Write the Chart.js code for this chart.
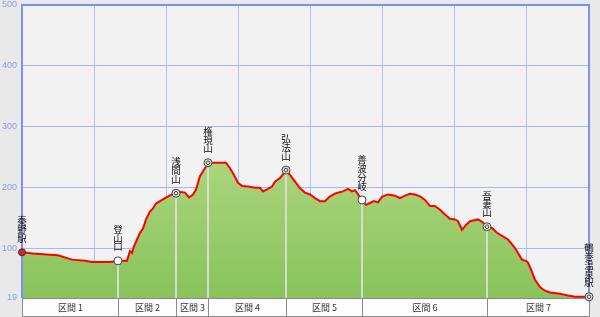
<!DOCTYPE html>
<html><head><meta charset="utf-8">
<script src="https://cdn.jsdelivr.net/npm/chart.js@4/dist/chart.umd.min.js"></script>
<style>html,body{margin:0;padding:0;background:#e9e9e9;}canvas{display:block;}</style>
</head><body>
<canvas id="c" width="600" height="317"></canvas>
<script>
// distance along route (km) and elevation (m)
const distKm = [0,0.153,0.389,0.5,0.694,0.875,0.972,1.222,1.333,1.458,1.5,1.528,1.556,1.597,1.639,1.681,1.722,1.778,1.819,1.861,1.917,1.958,2.028,2.083,2.139,2.208,2.264,2.319,2.375,2.417,2.444,2.472,2.514,2.556,2.583,2.653,2.833,2.889,2.944,3.0,3.056,3.139,3.236,3.306,3.347,3.417,3.472,3.514,3.583,3.639,3.667,3.722,3.792,3.861,3.931,4.0,4.069,4.139,4.208,4.278,4.361,4.458,4.528,4.583,4.625,4.667,4.722,4.778,4.833,4.889,4.944,5.0,5.083,5.181,5.25,5.319,5.389,5.458,5.528,5.597,5.667,5.736,5.806,5.875,5.944,6.014,6.056,6.111,6.167,6.222,6.333,6.403,6.458,6.528,6.597,6.667,6.75,6.806,6.847,6.889,6.944,7.0,7.028,7.069,7.125,7.194,7.264,7.333,7.472,7.583,7.681,7.875];
const elevation = [94,92,90,89,82,80,78,78,80,80,96,93,104,115,126,133,148,161,166,174,178,181,186,189,191,193,192,184,189,197,208,219,227,235,241,241,241,232,221,208,203,202,200,200,194,198,202,210,216,224,229,221,210,199,192,189,183,178,178,186,191,194,198,194,196,189,180,172,175,178,176,185,189,187,183,187,190,189,186,180,170,170,164,156,149,148,145,131,139,145,148,143,136,134,126,121,115,107,101,93,82,80,77,66,49,37,31,28,26,23,21,21];

const stationNames = ["秦野駅","登山口","浅間山","権現山","弘法山","善波分岐","吾妻山","鶴巻温泉駅"];
const stationKm = [0,1.333,2.139,2.583,3.667,4.722,6.458,7.875];
const stationElev = [94,80,191,241,229,180,136,21];
const stationType = ["station","point","summit","summit","summit","point","summit","summit"];

const sectionLabels = ["区間 1","区間 2","区間 3","区間 4","区間 5","区間 6","区間 7"];
const yTicks = [19,100,200,300,400,500];
const xGridKm = [0,1,2,3,4,5,6,7];
const xMaxKm = 7.875;

const points = distKm.map((d,i)=>({x:d,y:elevation[i]}));

const deco = {
  id:'deco',
  beforeDraw(chart){
    const {ctx, chartArea:a} = chart;
    ctx.save();
    ctx.fillStyle = '#e9e9e9';
    ctx.fillRect(0,0,chart.width,chart.height);
    ctx.fillStyle = '#f2f2f2';
    ctx.fillRect(a.left,a.top,a.right-a.left,a.bottom-a.top);
    ctx.restore();
  },
  afterDatasetsDraw(chart){
    const {ctx, chartArea:a, scales:{x,y}} = chart;
    ctx.save();
    // frame
    ctx.strokeStyle = '#7d8ff0';
    ctx.lineWidth = 2;
    ctx.beginPath();
    ctx.moveTo(a.left, a.bottom); ctx.lineTo(a.left, a.top); ctx.lineTo(a.right, a.top); ctx.lineTo(a.right, a.bottom);
    ctx.stroke();
    // station vertical lines
    stationKm.forEach((k,i)=>{
      const px = Math.round(x.getPixelForValue(k));
      const py = y.getPixelForValue(stationElev[i]);
      if (i===0 || i===stationKm.length-1) return;
      ctx.strokeStyle = 'rgba(225,225,225,0.85)';
      ctx.lineWidth = 2;
      ctx.beginPath(); ctx.moveTo(px, py+4); ctx.lineTo(px, a.bottom); ctx.stroke();
    });
    // section band
    const bandTop = a.bottom, bandBot = chart.height - 1;
    for (let i=0;i<sectionLabels.length;i++){
      const x0 = Math.round(x.getPixelForValue(stationKm[i])) + 0.5;
      const x1 = Math.round(x.getPixelForValue(stationKm[i+1])) + 0.5;
      ctx.fillStyle = '#fdfdfd';
      ctx.fillRect(x0, bandTop, x1-x0, bandBot-bandTop);
      ctx.strokeStyle = '#8a8a8a';
      ctx.lineWidth = 1;
      ctx.strokeRect(x0, bandTop+0.5, x1-x0, bandBot-bandTop);
      ctx.fillStyle = '#333';
      ctx.font = '9px "Noto Sans CJK JP", sans-serif';
      ctx.textAlign = 'center';
      ctx.textBaseline = 'middle';
      ctx.fillText(sectionLabels[i], (x0+x1)/2, (bandTop+bandBot)/2+1);
    }
    // markers and labels
    stationKm.forEach((k,i)=>{
      const px = x.getPixelForValue(k);
      const py = y.getPixelForValue(stationElev[i]);
      const t = stationType[i];
      if (t==='station'){
        ctx.fillStyle = '#e02020';
        ctx.strokeStyle = '#333';
        ctx.lineWidth = 1;
        ctx.beginPath(); ctx.arc(px, py, 3.5, 0, Math.PI*2); ctx.fill(); ctx.stroke();
      } else {
        ctx.fillStyle = t==='summit' ? '#e4e4e4' : '#ffffff';
        ctx.strokeStyle = '#444';
        ctx.lineWidth = 1;
        ctx.beginPath(); ctx.arc(px, py, 4, 0, Math.PI*2); ctx.fill(); ctx.stroke();
        if (t==='summit'){
          ctx.beginPath(); ctx.arc(px, py, 1.8, 0, Math.PI*2); ctx.stroke();
        }
      }
      // vertical label
      const chars = Array.from(stationNames[i]);
      ctx.fillStyle = '#111';
      ctx.font = '9.5px "Noto Sans CJK JP", sans-serif';
      ctx.textAlign = 'center';
      ctx.textBaseline = 'middle';
      const step = 8.8;
      let cy = py - 14;
      for (let j=chars.length-1;j>=0;j--){
        ctx.fillText(chars[j], px, cy);
        cy -= step;
      }
    });
    ctx.restore();
  }
};

new Chart(document.getElementById('c'), {
  type:'line',
  data:{datasets:[{
    data: points,
    borderColor:'#ff0000',
    borderWidth:2,
    pointRadius:0,
    tension:0,
    fill:'start',
    backgroundColor:(c)=>{
      const a = c.chart.chartArea;
      if (!a) return '#a0cf70';
      const g = c.chart.ctx.createLinearGradient(0,a.top,0,a.bottom);
      g.addColorStop(0,'#d2e9a4');
      g.addColorStop(1,'#89c35a');
      return g;
    }
  }]},
  options:{
    responsive:false,
    animation:false,
    devicePixelRatio:1,
    layout:{padding:{top:5,right:11,bottom:19,left:0}},
    plugins:{legend:{display:false},tooltip:{enabled:false}},
    scales:{
      x:{type:'linear',min:0,max:xMaxKm,
        afterBuildTicks:(s)=>{s.ticks = xGridKm.map(v=>({value:v}));},
        ticks:{display:false},
        grid:{color:'#b4c0f4',lineWidth:1,drawTicks:false},
        border:{display:false},
        afterFit:(s)=>{s.height=0;s.paddingLeft=0;s.paddingRight=0;}
      },
      y:{type:'linear',min:19,max:500,
        afterBuildTicks:(s)=>{s.ticks = yTicks.map(v=>({value:v}));},
        ticks:{color:'#8a9ce6',padding:5,font:{size:9,family:'"Liberation Sans", sans-serif'}},
        grid:{color:'#a8b6f4',lineWidth:1,drawTicks:false},
        border:{display:false},
        afterFit:(s)=>{s.width=22;s.paddingTop=0;s.paddingBottom=0;}
      }
    }
  },
  plugins:[deco]
});
</script>
</body></html>
